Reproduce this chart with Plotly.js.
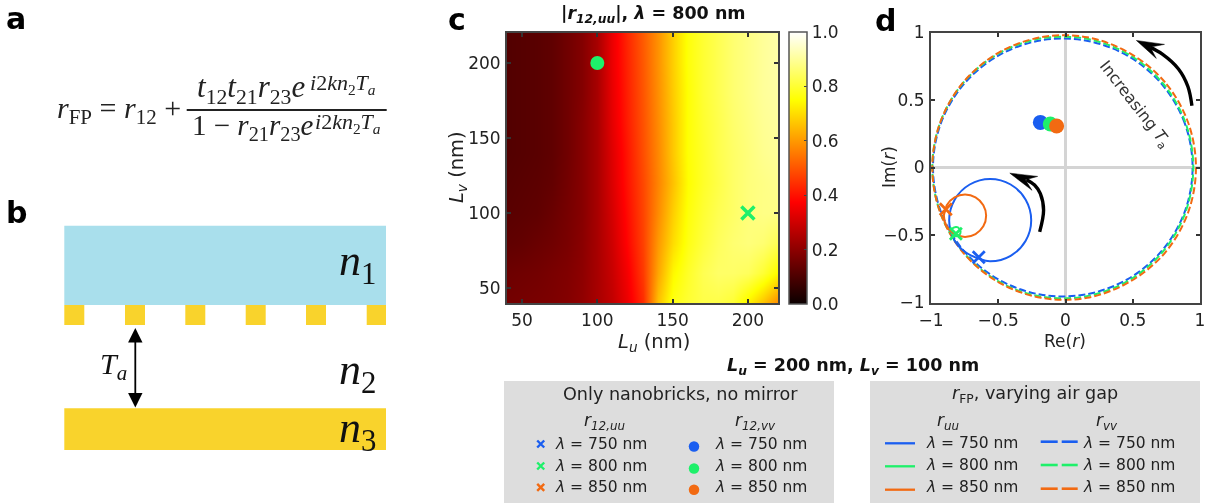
<!DOCTYPE html>
<html><head><meta charset="utf-8">
<script src="https://cdn.plot.ly/plotly-3.0.0.min.js"></script>
<style>html,body{margin:0;padding:0;background:#fff;overflow:hidden}#chart{width:1215px;height:503px;filter:blur(0.45px)}</style>
</head><body><div id="chart"></div>
<script>
// Panel c data
const lu = [40,50,60,70,80,90,100,110,120,130,140,150,160,170,180,190,200,210,220];
const lv = [40,60,80,100,120,140,160,180,200,220];
const absR = [
[.16,.165,.17,.175,.185,.205,.24,.28,.345,.44,.66,.77,.80,.82,.82,.80,.73,.66,.58],
[.15,.155,.16,.17,.18,.20,.24,.29,.36,.46,.62,.74,.79,.83,.85,.85,.84,.80,.74],
[.13,.135,.145,.155,.17,.195,.24,.30,.38,.47,.60,.70,.77,.81,.84,.86,.87,.86,.83],
[.12,.125,.13,.145,.165,.19,.24,.31,.39,.475,.58,.68,.76,.80,.83,.85,.87,.88,.88],
[.115,.12,.125,.135,.16,.19,.24,.32,.40,.48,.57,.66,.75,.79,.82,.85,.87,.88,.89],
[.11,.115,.12,.13,.155,.19,.24,.325,.405,.49,.575,.67,.755,.79,.825,.85,.87,.89,.90],
[.11,.115,.12,.13,.155,.19,.24,.335,.415,.495,.58,.67,.755,.795,.825,.855,.875,.895,.905],
[.11,.115,.12,.13,.155,.185,.24,.34,.42,.50,.585,.675,.755,.80,.83,.86,.88,.90,.91],
[.11,.115,.12,.13,.155,.185,.24,.345,.425,.505,.59,.68,.76,.80,.83,.86,.88,.90,.915],
[.11,.115,.12,.13,.155,.185,.24,.345,.43,.51,.59,.68,.76,.80,.83,.86,.88,.90,.915]
];
const dotC = {x:[100], y:[200]};
const crossC = {x:[200], y:[100]};
// Panel d data
const wavelengths = ['750','800','850'];
const colBlue='#1a5ef0', colGreen='#1ef06a', colOrange='#f26a12';
const vvBlueRe=[.945,.887,.719,.463,.148,-.188,-.503,-.759,-.927,-.985,-.927,-.759,-.503,-.188,.148,.463,.719,.887,.945];
const vvBlueIm=[0,.327,.614,.827,.941,.941,.827,.614,.327,0,-.327,-.614,-.827,-.941,-.941,-.827,-.614,-.327,0];
const vvGreenRe=[.723,.465,.149,-.189,-.505,-.763,-.932,-.99,-.932,-.763,-.505,-.189,.149,.465,.723,.892,.95,.892,.723];
const vvGreenIm=[.624,.84,.955,.955,.84,.624,.332,0,-.332,-.624,-.84,-.955,-.955,-.84,-.624,-.332,0,.332,.624];
const vvOrangeRe=[.911,.741,.48,.161,-.181,-.5,-.761,-.931,-.99,-.931,-.761,-.5,-.181,.161,.48,.741,.911,.97,.911];
const vvOrangeIm=[.335,.63,.845,.965,.965,.849,.63,.335,0,-.335,-.63,-.849,-.965,-.965,-.845,-.63,-.335,0,.335];
const uuBlueRe=[-.645,-.56,-.408,-.296,-.255,-.296,-.408,-.56,-.712,-.824,-.865,-.824,-.74,-.645];
const uuBlueIm=[-.675,-.695,-.654,-.542,-.39,-.238,-.126,-.085,-.126,-.238,-.39,-.542,-.63,-.675];
const uuGreenRe=[-.78,-.798,-.815,-.845,-.85,-.835,-.815,-.79,-.78];
const uuGreenIm=[-.475,-.445,-.44,-.455,-.475,-.505,-.51,-.50,-.475];
const uuOrangeRe=[-.89,-.883,-.825,-.747,-.669,-.611,-.59,-.611,-.669,-.747,-.825,-.883,-.904,-.89];
const uuOrangeIm=[-.31,-.279,-.221,-.2,-.221,-.279,-.357,-.436,-.493,-.514,-.493,-.436,-.357,-.31];
const r12uuRe=[-.645,-.815,-.89], r12uuIm=[-.665,-.49,-.31];
const r12vvRe=[-.187,-.113,-.066], r12vvIm=[.334,.322,.307];
const arrowOuterRe=[.94,.91,.84,.72,.63], arrowOuterIm=[.457,.60,.73,.84,.89];
const arrowOuterHeadRe=[.527,.736,.63,.675,.527], arrowOuterHeadIm=[.941,.912,.892,.808,.941];
const arrowInnerRe=[-.192,-.163,-.187,-.23,-.29], arrowInnerIm=[-.477,-.317,-.194,-.13,-.09];
const arrowInnerHeadRe=[-.414,-.207,-.298,-.249,-.414], arrowInnerHeadIm=[-.042,-.066,-.091,-.169,-.042];
const cTicks=[50,100,150,200];
const dTicks=[-1,-.5,0,.5,1];
const dTickText=['−1','−0.5','0','0.5','1'];

const W=1215,H=503;
const hot=[[0,'#0b0000'],[.375,'#ff0000'],[.75,'#ffff00'],[1,'#ffffff']];
const tf={family:'DejaVu Sans',size:17,color:'#222'};
const axC={ticks:'inside',ticklen:4,tickwidth:1.5,tickcolor:'#333',mirror:'ticks',showline:true,linecolor:'#444',linewidth:2,showgrid:false,zeroline:false,tickfont:tf,ticklabelstandoff:1,fixedrange:true};
const px=(a,b)=>[a/W,b/W], py=(top,bot)=>[(H-bot)/H,(H-top)/H];

const traces=[];
traces.push({type:'heatmap',x:lu,y:lv,z:absR,zmin:0,zmax:1,zsmooth:'best',colorscale:hot,xaxis:'x',yaxis:'y',
  colorbar:{x:788.7/W,xanchor:'left',xpad:0,ypad:0,y:(H-304)/H,yanchor:'bottom',len:272/H,thickness:18,outlinewidth:1.5,outlinecolor:'#555',
    tickmode:'array',tickvals:[0,.2,.4,.6,.8,1],ticktext:['0.0','0.2','0.4','0.6','0.8','1.0'],tickfont:tf,ticks:'inside',ticklen:3,tickcolor:'#444',ticklabelposition:'outside'}});
traces.push({type:'scatter',mode:'markers',x:dotC.x,y:dotC.y,marker:{color:colGreen,size:14},xaxis:'x',yaxis:'y',showlegend:false});
traces.push({type:'scatter',mode:'markers',x:crossC.x,y:crossC.y,marker:{symbol:'x-thin',color:colGreen,size:13,line:{color:colGreen,width:3.5}},xaxis:'x',yaxis:'y',showlegend:false});

function curve(x,y,c,dash,w){traces.push({type:'scatter',mode:'lines',x,y,line:{color:c,width:w,dash,shape:'spline',smoothing:1},xaxis:'x2',yaxis:'y2',showlegend:false});}
curve(vvBlueRe,vvBlueIm,colBlue,'7px,3px',2);
curve(vvGreenRe,vvGreenIm,colGreen,'7px,3px',2);
curve(vvOrangeRe,vvOrangeIm,colOrange,'7px,3px',2);
curve(uuBlueRe,uuBlueIm,colBlue,'solid',2);
curve(uuGreenRe,uuGreenIm,colGreen,'solid',2);
curve(uuOrangeRe,uuOrangeIm,colOrange,'solid',2);
[colBlue,colGreen,colOrange].forEach((c,i)=>{
  traces.push({type:'scatter',mode:'markers',x:[r12uuRe[i]],y:[r12uuIm[i]],marker:{symbol:'x-thin',color:c,size:12,line:{color:c,width:2.8}},xaxis:'x2',yaxis:'y2',showlegend:false});
});
[colBlue,colGreen,colOrange].forEach((c,i)=>{
  traces.push({type:'scatter',mode:'markers',x:[r12vvRe[i]],y:[r12vvIm[i]],marker:{color:c,size:15},xaxis:'x2',yaxis:'y2',showlegend:false});
});
function arrow(rx,ry,hx,hy){
  traces.push({type:'scatter',mode:'lines',x:rx,y:ry,line:{color:'#000',width:3.4,shape:'spline'},xaxis:'x2',yaxis:'y2',showlegend:false});
  traces.push({type:'scatter',mode:'lines',x:hx,y:hy,fill:'toself',fillcolor:'#000',line:{color:'#000',width:.5},xaxis:'x2',yaxis:'y2',showlegend:false});
}
arrow(arrowOuterRe,arrowOuterIm,arrowOuterHeadRe,arrowOuterHeadIm);
arrow(arrowInnerRe,arrowInnerIm,arrowInnerHeadRe,arrowInnerHeadIm);

// Legend glyphs on a hidden page-sized axis
const rowsL=[444,466,487.3], rowsR=[442.7,465,486.7], linesR=[443.3,466.3,489.7], dashR=[441.7,465,488.7];
const lcol=[colBlue,colGreen,colOrange];
lcol.forEach((c,i)=>{
  traces.push({type:'scatter',mode:'markers',x:[540.7],y:[rowsL[i]],marker:{symbol:'x-thin',color:c,size:7,line:{color:c,width:2.4}},xaxis:'x3',yaxis:'y3',showlegend:false});
  traces.push({type:'scatter',mode:'markers',x:[694],y:[rowsL[i]+2.5],marker:{color:c,size:10.5},xaxis:'x3',yaxis:'y3',showlegend:false});
  traces.push({type:'scatter',mode:'lines',x:[885,915],y:[linesR[i],linesR[i]],line:{color:c,width:2.3},xaxis:'x3',yaxis:'y3',showlegend:false});
  traces.push({type:'scatter',mode:'lines',x:[1040.7,1057.7,null,1061.7,1077.7],y:[dashR[i],dashR[i],null,dashR[i],dashR[i]],line:{color:c,width:2.6},xaxis:'x3',yaxis:'y3',showlegend:false});
});

const shapes=[];
function rect(x0,y0,x1,y1,c){shapes.push({type:'rect',xref:'x3',yref:'y3',x0,y0,x1,y1,fillcolor:c,line:{width:0},layer:'below'});}
rect(64.3,225.7,386,305,'#a9dfec');
[[64.3,84.3],[125,145],[185.3,205.3],[245.7,265.7],[306,326],[366.7,386]].forEach(b=>rect(b[0],305,b[1],325,'#f9d32c'));
rect(64.3,408.3,386,450,'#f9d32c');
rect(504,381,834,503,'#dddddd');
rect(870,381,1200,503,'#dddddd');
shapes.push({type:'line',xref:'x3',yref:'y3',x0:186.7,x1:386.7,y0:110,y1:110,line:{color:'#222',width:1.8}});

const anns=[];
function T(text,x,y,opt={}){anns.push(Object.assign({text,x,y,xref:'x3',yref:'y3',showarrow:false,xanchor:opt.anchor||'center',yanchor:'middle',textangle:opt.angle||0,
  font:{family:opt.family||'DejaVu Sans',size:opt.size||15,color:opt.color||'#222'}}));}
const SER='Liberation Serif';
[['a',16,18],['b',16,212],['c',457,19],['d',885,20]].forEach(p=>T('<b>'+p[0]+'</b>',p[1],p[2],{size:30,color:'#000'}));
// equation
T('<i>r</i><sub>FP</sub> = <i>r</i><sub>12</sub> +',55,110,{family:SER,size:30,anchor:'left'});
T('<i>t</i><sub>12</sub><i>t</i><sub>21</sub><i>r</i><sub>23</sub><i>e</i>',195,89,{family:SER,size:31,anchor:'left'});
T('<i>i</i>2<i>k</i><i>n</i><sub>2</sub><i>T<sub>a</sub></i>',308,84,{family:SER,size:22,anchor:'left'});
T('1 − <i>r</i><sub>21</sub><i>r</i><sub>23</sub><i>e</i>',190,127,{family:SER,size:29,anchor:'left'});
T('<i>i</i>2<i>k</i><i>n</i><sub>2</sub><i>T<sub>a</sub></i>',313,123,{family:SER,size:22,anchor:'left'});
// schematic
T('<i>n</i><sub>1</sub>',357,263,{family:SER,size:44,color:'#111'});
T('<i>n</i><sub>2</sub>',357,372,{family:SER,size:44,color:'#111'});
T('<i>n</i><sub>3</sub>',357,430,{family:SER,size:44,color:'#111'});
T('<i>T<sub>a</sub></i>',113,366,{family:SER,size:30,color:'#111'});
anns.push({xref:'x3',yref:'y3',axref:'x3',ayref:'y3',x:135.3,y:407.5,ax:135.3,ay:326.5,text:'',showarrow:true,arrowside:'end+start',arrowhead:2,arrowsize:1.6,arrowwidth:1.8,arrowcolor:'#000'});
// titles
T('<b>|<i>r</i><sub><i>12,uu</i></sub>|, <i>λ</i> = 800 nm</b>',653,14,{size:17.5,color:'#111'});
T('<b><i>L<sub>u</sub></i> = 200 nm, <i>L<sub>v</sub></i> = 100 nm</b>',853,366,{size:17.5,color:'#111'});
T('<i>L<sub>u</sub></i> (nm)',654,342,{size:19.5});
T('<i>L<sub>v</sub></i> (nm)',457,167,{size:19.5,angle:-90});
T('Re(<i>r</i>)',1065,341,{size:17});
T('Im(<i>r</i>)',889,167,{size:17,angle:-90});
T('Increasing <i>T</i><sub>a</sub>',1135,104,{size:16,angle:52,color:'#333'});
// legend text
T('Only nanobricks, no mirror',680,394,{size:17.6});
T('<i>r</i><sub>FP</sub>, varying air gap',1035,394,{size:17.6});
T('<i>r</i><sub><i>12,uu</i></sub>',604.5,421,{size:17});
T('<i>r</i><sub><i>12,vv</i></sub>',755,421,{size:17});
T('<i>r</i><sub><i>uu</i></sub>',948,421,{size:17});
T('<i>r</i><sub><i>vv</i></sub>',1107,421,{size:17});
wavelengths.forEach((w,i)=>{
  const s='<i>λ</i> = '+w+' nm';
  T(s,553.3,rowsL[i],{anchor:'left',size:15.5});
  T(s,713,rowsL[i],{anchor:'left',size:15.5});
  T(s,924.3,rowsR[i],{anchor:'left',size:15.5});
  T(s,1081,rowsR[i],{anchor:'left',size:15.5});
});

const layout={
  width:W,height:H,margin:{l:0,r:0,t:0,b:0},paper_bgcolor:'#fff',plot_bgcolor:'rgba(0,0,0,0)',showlegend:false,
  xaxis:Object.assign({},axC,{domain:px(507,778),range:[40,220],tickvals:cTicks,anchor:'y'}),
  yaxis:Object.assign({},axC,{domain:py(33,303),range:[40,220],tickvals:cTicks,anchor:'x'}),
  xaxis2:Object.assign({},axC,{domain:px(931,1200),range:[-1,1],tickvals:dTicks,ticktext:dTickText,anchor:'y2',zeroline:true,zerolinecolor:'#d4d4d4',zerolinewidth:2.5}),
  yaxis2:Object.assign({},axC,{domain:py(32.5,302.5),range:[-1,1],tickvals:dTicks,ticktext:dTickText,anchor:'x2',zeroline:true,zerolinecolor:'#d4d4d4',zerolinewidth:2.5}),
  xaxis3:{domain:[0,1],range:[0,W],visible:false,anchor:'y3',fixedrange:true},
  yaxis3:{domain:[0,1],range:[H,0],visible:false,anchor:'x3',fixedrange:true},
  shapes,annotations:anns
};
Plotly.newPlot('chart',traces,layout,{displayModeBar:false,responsive:false});
</script></body></html>
